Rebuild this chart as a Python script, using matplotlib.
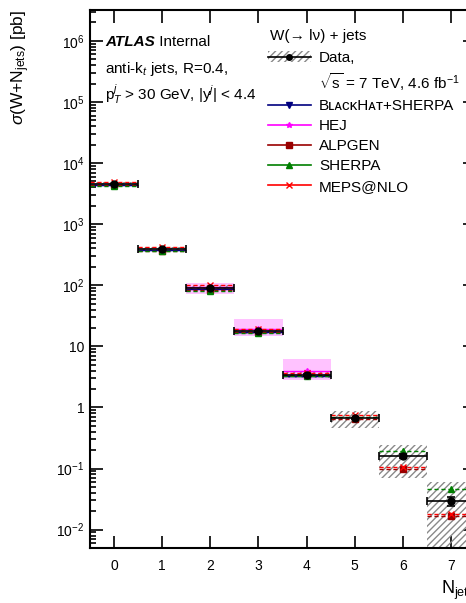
import matplotlib
matplotlib.use("Agg")
import matplotlib.pyplot as plt
import numpy as np
from matplotlib.lines import Line2D
from matplotlib.patches import Patch
from matplotlib.ticker import FixedLocator, LogLocator, NullFormatter

plt.rcParams["font.family"] = ["Liberation Sans", "DejaVu Sans"]
plt.rcParams["mathtext.fontset"] = "custom"
plt.rcParams["mathtext.rm"] = "Liberation Sans"
plt.rcParams["mathtext.it"] = "Liberation Sans:italic"
plt.rcParams["hatch.color"] = "#8a8a8a"
plt.rcParams["hatch.linewidth"] = 1.0

# inclusive jet multiplicity
njet = np.arange(8)

# data with total uncertainty band
data = np.array([4.5e3, 390, 90, 17.5, 3.4, 0.66, 0.16, 0.029])
data_stat = np.array([20, 3, 1, 0.3, 0.08, 0.02, 0.01, 0.005])
data_lo = np.array([4.1e3, 355, 80, 15.8, 3.05, 0.46, 0.07, 0.004])
data_hi = np.array([4.9e3, 425, 100, 19.3, 3.8, 0.87, 0.24, 0.06])

# predictions
bh_n = np.arange(5)
bh = np.array([4.4e3, 380, 88, 17.0, 3.3])
bh_lo = np.array([4.1e3, 355, 80, 15.0, 2.9])
bh_hi = np.array([4.7e3, 405, 95, 18.5, 3.6])

hej_n = np.array([2, 3, 4])
hej = np.array([95, 19.5, 3.9])
hej_lo = np.array([72, 15.0, 2.8])
hej_hi = np.array([110, 28.5, 6.1])

alpgen = np.array([4.3e3, 370, 85, 17.0, 3.35, 0.64, 0.100, 0.017])
sherpa = np.array([4.25e3, 360, 81, 16.6, 3.3, 0.70, 0.19, 0.047])
meps = np.array([4.9e3, 425, 100, 19.0, 3.6, 0.75, 0.105, 0.018])

ytick_vals = [1e-2, 1e-1, 1, 10, 1e2, 1e3, 1e4, 1e5, 1e6]
ytick_labels = ["$10^{-2}$", "$10^{-1}$", "1", "10", "$10^{2}$", "$10^{3}$",
                "$10^{4}$", "$10^{5}$", "$10^{6}$"]

NAVY = "#00007f"
MAGENTA = "#ff00ff"
DKRED = "#990000"
GREEN = "#007f00"
RED = "#ff0000"

fig = plt.figure(figsize=(4.66, 6.03), dpi=100)
ax = fig.add_axes([90 / 466, 1 - 548 / 603, 385 / 466, 538 / 603])
ax.set_yscale("log")

# uncertainty bands of predictions
ax.bar(bh_n, bh_hi - bh_lo, bottom=bh_lo, width=1, color="#c4c4ff", alpha=0.6, linewidth=0, zorder=1)
ax.bar(hej_n, hej_hi - hej_lo, bottom=hej_lo, width=1, color="#ffb8ff", alpha=0.85, linewidth=0, zorder=1)

# data band
ax.bar(njet, data_hi - data_lo, bottom=data_lo, width=1, facecolor="none",
       edgecolor="#8a8a8a", hatch="/////", linewidth=0, zorder=2)


def draw_model(n, y, color, marker, ms, ls="--"):
    lines = ax.hlines(y, n - 0.5, n + 0.5, colors=color, linewidth=1.0, zorder=3)
    if ls == "--":
        lines.set_linestyle((0, (3, 2)))
    ax.plot(n, y, linestyle="none", marker=marker, color=color, ms=ms, zorder=4)


draw_model(bh_n, bh, NAVY, "v", 4.5, ls="-")
draw_model(hej_n, hej, MAGENTA, "*", 4, ls="-")
draw_model(njet, alpgen, DKRED, "s", 5)
draw_model(njet, sherpa, GREEN, "^", 5)
draw_model(njet, meps, RED, "x", 5)

ax.errorbar(njet, data, xerr=0.5, yerr=data_stat, fmt="o", color="k", ms=5,
            capsize=3, elinewidth=1.2, capthick=1.2, zorder=5)

ax.set_xlim(-0.5, 7.5)
ax.set_ylim(5e-3, 3.2e6)
ax.set_xticks(njet)
ax.yaxis.set_major_locator(FixedLocator(ytick_vals))
ax.set_yticklabels(ytick_labels)
ax.yaxis.set_minor_locator(LogLocator(base=10, subs=np.arange(2, 10), numticks=30))
ax.yaxis.set_minor_formatter(NullFormatter())
ax.tick_params(which="both", direction="in", top=True, right=True, labelsize=10, width=1.2)
ax.tick_params(which="major", length=9)
ax.tick_params(which="minor", length=4.5)
ax.tick_params(axis="x", pad=8)
ax.tick_params(axis="y", pad=4)
ax.xaxis.set_minor_locator(FixedLocator([]))
for s in ax.spines.values():
    s.set_linewidth(1.5)

ax.set_ylabel(r"$\sigma$(W+N$_{\rm jets}$) [pb]", fontsize=12.5, loc="top")
ax.yaxis.set_label_coords(-0.15, 1.0)
ax.set_xlabel("N$_{\\rm jets}$", fontsize=13, loc="right")

t = ax.text(0.039, 0.94, "ATLAS", transform=ax.transAxes, fontsize=11,
            fontweight="bold", fontstyle="italic", va="center")
ax.annotate(" Internal", xy=(1, 0), xycoords=t, fontsize=11, va="bottom")
ax.text(0.039, 0.89, "anti-k$_t$ jets, R=0.4,", transform=ax.transAxes, fontsize=11, va="center")
ax.text(0.039, 0.843, "p$_T^j$ > 30 GeV, |y$^j$| < 4.4", transform=ax.transAxes, fontsize=11, va="center")

# legend title as its own text so the gap below it matches
fig.text(270 / 466, 1 - 36 / 603, "W(\u2192 l\u03bd) + jets", fontsize=11, va="center", ha="left")

handles = [
    (Patch(facecolor="white", edgecolor="#8a8a8a", hatch="/////", linewidth=0),
     Line2D([], [], color="k", marker="o", ms=4, lw=1.2)),
    Line2D([], [], linestyle="none"),
    Line2D([], [], color=NAVY, marker="v", ms=4, lw=1.2),
    Line2D([], [], color=MAGENTA, marker="*", ms=4, lw=1.2),
    Line2D([], [], color=DKRED, marker="s", ms=5, lw=1.2),
    Line2D([], [], color=GREEN, marker="^", ms=4, lw=1.2),
    Line2D([], [], color=RED, marker="x", ms=5, lw=1.2),
]
labels = [
    "Data,",
    "$\\sqrt{\\rm s}$ = 7 TeV, 4.6 fb$^{-1}$",
    "B\u029f\u1d00\u1d04\u1d0bH\u1d00\u1d1b+SHERPA",
    "HEJ",
    "ALPGEN",
    "SHERPA",
    "MEPS@NLO",
]
leg = ax.legend(handles, labels, loc="upper left", bbox_to_anchor=(268 / 466, 1 - 51 / 603),
                bbox_transform=fig.transFigure, frameon=False, fontsize=11,
                handlelength=2.8, handletextpad=0.55, labelspacing=0.4, borderpad=0,
                borderaxespad=0)

fig.savefig("out.png", dpi=100)
